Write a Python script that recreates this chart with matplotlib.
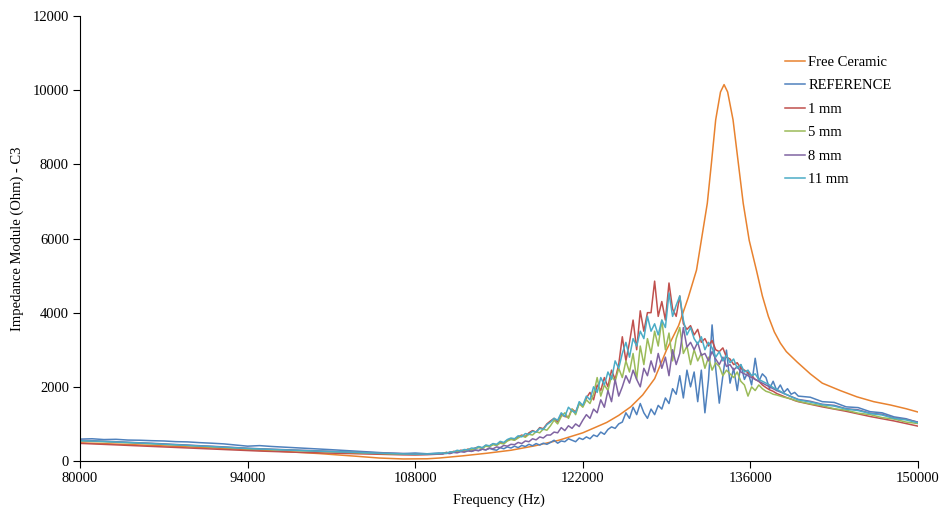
import numpy as np
import matplotlib
matplotlib.use('Agg')
import matplotlib.pyplot as plt

plt.rcParams['font.family'] = ['Liberation Serif', 'DejaVu Serif']

# Free ceramic sweep (smooth, own frequency points)
ceramic_freq = [80000, 84000, 88000, 92000, 96000, 100000, 103000, 105000, 107000,
                109000, 110000, 112000, 114000, 116000, 118000, 120000, 122000,
                124000, 125000, 126000, 127000, 128000, 129000, 130000, 130800,
                131500, 132400, 132750, 133100, 133500, 133800, 134100, 134550,
                135400, 135900, 136500, 137000, 137500, 138000, 138500, 139000,
                139900, 141000, 142000, 143500, 144900, 146300, 147700, 149000,
                150000]
ceramic = [490, 445, 395, 340, 275, 200, 130, 80, 55,
           60, 80, 140, 210, 290, 410, 560, 760,
           1040, 1230, 1460, 1780, 2220, 3000, 3650, 4400,
           5150, 6950, 8050, 9200, 9950, 10150, 9950, 9200,
           6950, 5950, 5150, 4450, 3900, 3480, 3180, 2950,
           2670, 2350, 2100, 1900, 1730, 1600, 1510, 1410,
           1320]

# Shared sweep for the mounted measurements: coarse, fine around resonance, coarse tail
freq = np.concatenate([np.arange(80000, 110001, 1000),
                       np.arange(110300, 140001, 300),
                       np.arange(141000, 150001, 1000)])

reference = [590, 600, 578, 585, 565, 560, 548, 540, 522, 515, 495, 480, 462, 430, 400, 415,
             392, 375, 360, 342, 325, 305, 285, 262, 245, 228, 210, 200, 215, 195, 215,
             200, 230, 210, 250, 240, 270, 250, 290, 260, 300,
             280, 320, 300, 340, 310, 290, 360, 330, 380, 350,
             400, 360, 420, 390, 450, 410, 470, 430, 480, 450,
             500, 560, 480, 540, 520, 600, 560, 520, 620, 580,
             650, 600, 700, 660, 780, 720, 850, 920, 880, 1000,
             1050, 1300, 1150, 1450, 1250, 1550, 1300, 1150, 1400, 1250,
             1500, 1400, 1700, 1550, 1950, 1800, 2300, 1700, 2450, 2000,
             2400, 1600, 2450, 1300, 2200, 3670, 2500, 1560, 2300, 2990,
             2100, 2500, 1900, 2600, 2200, 2400, 2050, 2770, 2150, 2350,
             2250, 1950, 2150, 1900, 2050, 1850, 1950, 1800, 1850, 1750,
             1720, 1600, 1580, 1460, 1440, 1330, 1300, 1190, 1140, 1040]

mm1 = [475, 462, 448, 435, 420, 407, 393, 380, 366, 352, 338, 325, 310, 295, 280, 268,
       257, 247, 237, 228, 220, 212, 204, 196, 188, 180, 172, 166, 162, 170, 185,
       200, 230, 215, 260, 250, 290, 275, 320, 300, 350,
       380, 350, 420, 400, 460, 430, 510, 480, 560, 600,
       570, 650, 700, 660, 760, 820, 780, 900, 870, 1000,
       1080, 1150, 1050, 1250, 1200, 1180, 1400, 1320, 1550, 1480,
       1700, 1850, 1650, 2050, 1900, 2250, 2000, 2450, 2200, 2600,
       3350, 2700, 3200, 3800, 3000, 4050, 3500, 4000, 4000, 4850,
       3900, 4300, 3800, 4800, 4100, 3900, 4450, 3700, 3550, 3650,
       3400, 3550, 3200, 3300, 3100, 3250, 3000, 2950, 3050, 2800,
       2750, 2600, 2650, 2500, 2450, 2380, 2300, 2200, 2150, 2050,
       1980, 1920, 1880, 1820, 1780, 1740, 1700, 1670, 1630, 1600,
       1530, 1460, 1400, 1340, 1270, 1200, 1140, 1080, 1010, 940]

mm5 = [540, 530, 520, 505, 492, 478, 462, 448, 432, 418, 400, 385, 368, 350, 332, 318,
       305, 294, 282, 270, 258, 247, 236, 225, 214, 204, 194, 186, 180, 185, 195,
       200, 220, 210, 250, 240, 280, 265, 310, 300, 330,
       360, 340, 400, 380, 440, 420, 480, 460, 540, 580,
       560, 620, 680, 640, 720, 700, 790, 760, 860, 830,
       950, 1100, 1000, 1200, 1300, 1150, 1400, 1250, 1550, 1450,
       1650, 1550, 1800, 2250, 1750, 2050, 1900, 2300, 2150, 2500,
       2250, 2700, 2400, 2900, 2200, 3100, 2600, 3300, 2900, 3500,
       3100, 3800, 3000, 3450, 2700, 3300, 3600, 2900, 3100, 2600,
       3000, 2700, 2900, 2500, 2800, 2450, 2650, 2550, 2300, 2450,
       2350, 2250, 2400, 2150, 2050, 1750, 2000, 1900, 2050, 1950,
       1880, 1850, 1800, 1780, 1750, 1720, 1700, 1670, 1640, 1610,
       1540, 1490, 1410, 1370, 1290, 1250, 1170, 1130, 1050, 1010]

mm8 = [555, 548, 532, 520, 505, 490, 478, 460, 445, 430, 412, 398, 380, 362, 345, 330,
       318, 305, 292, 280, 270, 258, 248, 238, 228, 218, 206, 198, 190, 185, 190,
       190, 210, 200, 230, 220, 250, 240, 270, 260, 290,
       280, 320, 300, 350, 330, 380, 360, 420, 400, 450,
       440, 500, 470, 540, 520, 600, 570, 650, 620, 700,
       700, 780, 760, 900, 820, 950, 880, 1000, 930, 1100,
       1250, 1150, 1400, 1300, 1650, 1450, 1900, 1600, 2200, 1750,
       2000, 2300, 2100, 2450, 2200, 2000, 2500, 2300, 2700, 2400,
       2900, 2500, 2800, 2300, 3000, 2600, 2900, 3600, 3070, 3200,
       3000, 3200, 2850, 2900, 2700, 2950, 2750, 2600, 2800, 2550,
       2600, 2450, 2550, 2400, 2350, 2300, 2250, 2200, 2150, 2100,
       2050, 2000, 1950, 1900, 1860, 1820, 1780, 1740, 1700, 1660,
       1610, 1530, 1500, 1410, 1380, 1290, 1260, 1160, 1120, 1050]

mm11 = [550, 540, 528, 512, 500, 485, 470, 452, 438, 420, 405, 390, 372, 355, 338, 325,
        312, 300, 290, 278, 265, 255, 245, 235, 222, 212, 200, 192, 185, 190, 205,
        220, 200, 250, 240, 290, 270, 310, 300, 350, 340,
        390, 360, 430, 410, 470, 450, 530, 500, 580, 620,
        600, 680, 650, 740, 720, 800, 780, 880, 850, 980,
        1050, 1150, 1100, 1300, 1200, 1450, 1350, 1300, 1600, 1500,
        1750, 1650, 2000, 1850, 2250, 2050, 2400, 2200, 2700, 2500,
        2900, 3200, 2800, 3300, 3100, 3500, 3300, 3900, 3500, 3700,
        3400, 3800, 3600, 4530, 3900, 4200, 4450, 3800, 3400, 3600,
        3300, 3150, 3350, 3000, 3200, 3050, 2800, 2950, 2700, 2850,
        2650, 2750, 2500, 2600, 2400, 2450, 2300, 2350, 2200, 2150,
        2100, 2050, 1980, 1930, 1880, 1820, 1780, 1730, 1690, 1650,
        1590, 1520, 1480, 1400, 1360, 1280, 1240, 1150, 1110, 1030]

series = [
    ('REFERENCE', reference, '#4F81BD'),
    ('1 mm', mm1, '#C0504D'),
    ('5 mm', mm5, '#9BBB59'),
    ('8 mm', mm8, '#8064A2'),
    ('11 mm', mm11, '#4BACC6'),
]

fig = plt.figure(figsize=(9.44, 5.08), dpi=100)
ax = fig.add_axes([80 / 944, 1 - 461 / 508, 838 / 944, 445 / 508])

ax.plot(ceramic_freq, ceramic, color='#E8822F', lw=1.1, label='Free Ceramic')
for name, vals, col in series:
    ax.plot(freq, vals, color=col, lw=1.1, label=name)

ax.set_xlim(80000, 150000)
ax.set_ylim(0, 12000)
ax.set_xticks(np.arange(80000, 150001, 14000))
ax.set_yticks(np.arange(0, 12001, 2000))
ax.tick_params(direction='out', length=5, width=0.8, labelsize=10.5, pad=3)
for side in ('top', 'right'):
    ax.spines[side].set_visible(False)
for side in ('left', 'bottom'):
    ax.spines[side].set_linewidth(0.8)

ax.set_xlabel('Frequency (Hz)', fontsize=10.5, labelpad=6)
ax.set_ylabel('Impedance Module (Ohm) - C3', fontsize=10.5, labelpad=6)

ax.legend(loc='upper left', bbox_to_anchor=(779 / 944, 1 - 50 / 508),
          bbox_transform=fig.transFigure, frameon=False, fontsize=10.5,
          handlelength=1.4, handletextpad=0.2, labelspacing=0.7,
          borderaxespad=0)

fig.savefig('out.png', dpi=100)
